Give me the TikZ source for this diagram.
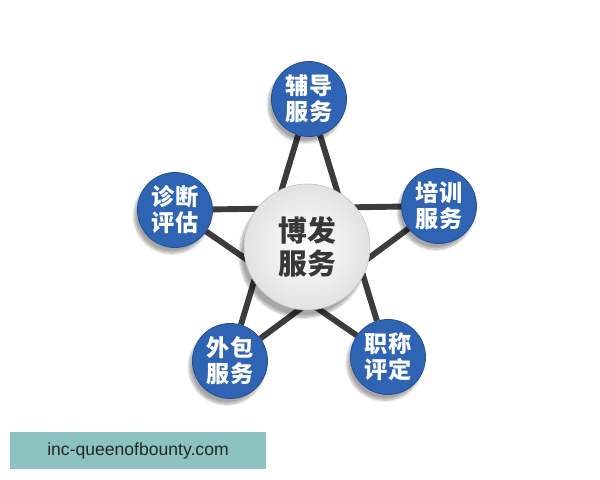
\documentclass[tikz,border=0pt]{standalone}
\usepackage{fontspec}
\usepackage{xcolor}
\usepackage{tikz}
\usetikzlibrary{backgrounds,shadows.blur}
\newfontfamily\cjk{Noto Sans CJK SC}
\newfontfamily\webfont{Liberation Sans}
\definecolor{bofablue}{HTML}{2F63B3}
\definecolor{bofaedge}{HTML}{24508F}
\definecolor{bofaline}{HTML}{3C3C3C}
\definecolor{bofagray}{HTML}{E2E2E2}
\definecolor{bofatext}{HTML}{383838}
\definecolor{bofateal}{HTML}{8CC3C0}

\begin{document}
\begin{tikzpicture}[
  font=\cjk\bfseries,
  service/.style={circle,minimum size=1.875cm,inner sep=0pt,align=center,text=white,
    fill=bofablue,draw=bofaedge,line width=0.6pt,
    font=\cjk\bfseries\fontsize{16.5}{18.5}\selectfont,
    blur shadow={shadow xshift=-0.8mm,shadow yshift=-1.4mm,shadow blur steps=10,shadow opacity=35}},
  hub/.style={circle,minimum size=3.15cm,inner sep=0pt,align=center,text=bofatext,
    inner color=white,outer color=bofagray,draw=bofagray!85!black,line width=0.4pt,
    font=\cjk\bfseries\fontsize{20.5}{24}\selectfont,
    blur shadow={shadow xshift=-1mm,shadow yshift=-1.8mm,shadow blur steps=12,shadow opacity=35}},
  link/.style={draw=bofaline,line width=4.2pt}
]
\useasboundingbox (0,0) rectangle (15,12);
\node[hub] (hub) at (7.675,5.825) {博发\\服务};
\node[service] (top) at (7.725,9.525) {辅导\\服务};
\node[service] (right) at (10.975,6.85) {培训\\服务};
\node[service] (lowright) at (9.7,3.075) {职称\\评定};
\node[service] (lowleft) at (5.75,2.975) {外包\\服务};
\node[service] (left) at (4.375,6.75) {诊断\\评估};
\begin{scope}[on background layer]
\draw[link] (top) -- (lowleft);
\draw[link] (top) -- (lowright);
\draw[link] (left) -- (right);
\draw[link] (left) -- (lowright);
\draw[link] (right) -- (lowleft);
\end{scope}
\node[fill=bofateal,minimum width=6.4cm,minimum height=0.925cm,inner sep=0pt,text=black!85,
  font=\webfont\fontsize{12.5}{14}\selectfont] (site) at (3.45,0.7375) {inc-queenofbounty.com};
\end{tikzpicture}
\end{document}
